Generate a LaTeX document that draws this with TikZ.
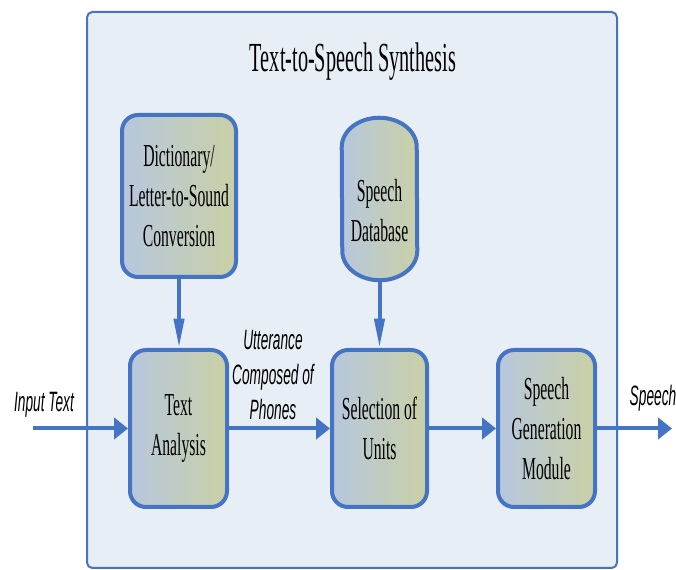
\documentclass[tikz,border=0pt]{standalone}
\usepackage{fontspec}
\usepackage{tikz}
\usetikzlibrary{arrows.meta}
\newfontfamily\boxfont[FakeStretch=0.49]{Liberation Serif}
\newfontfamily\labelfont[FakeStretch=0.49]{Liberation Sans}
\newlength\pxunit
\setlength\pxunit{0.75pt}
\definecolor{boxblue}{RGB}{70,116,196}
\definecolor{panelfill}{RGB}{232,238,246}
\definecolor{gradL}{RGB}{183,199,221}
\definecolor{gradR}{RGB}{201,208,166}
\tikzset{panel style/.style={draw=boxblue, line width=1.5pt, fill=panelfill, rounded corners=4pt}}
\tikzset{unit box/.style={draw=boxblue, line width=3pt, rounded corners=12pt, left color=gradL, right color=gradR, align=center, inner sep=0pt, font=\boxfont\fontsize{24pt}{30pt}\selectfont}}
\tikzset{db shape/.style={draw=boxblue, line width=3pt, left color=gradL, right color=gradR}}
\tikzset{flow label/.style={align=center, inner sep=0pt, font=\labelfont\itshape\fontsize{21pt}{26pt}\selectfont}}
\tikzset{h arrow/.style={draw=boxblue, line width=3pt, -{Triangle[length=10.5pt,width=16pt]}}}
\tikzset{v arrow/.style={draw=boxblue, line width=3pt, -{Triangle[length=22pt,width=7.5pt]}}}

\begin{document}
\begin{tikzpicture}[x=\pxunit, y=-\pxunit]
    \useasboundingbox (0,0) rectangle (676,570);
    \path[panel style] (87,12) rectangle (617,568);
    \node[font=\boxfont\fontsize{31pt}{36pt}\selectfont, inner sep=0pt] (title) at (353,62) {Text-to-Speech Synthesis};
    \node[unit box, minimum width=114\pxunit, minimum height=162\pxunit] (dict) at (179,196) {Dictionary/\\Letter-to-Sound\\Conversion};
    \node[minimum width=75\pxunit, minimum height=162\pxunit, inner sep=0pt] (db) at (379.5,199) {};
    \path[db shape] ([yshift=-22pt]db.north west)
        arc[start angle=180, end angle=0, x radius=28.125pt, y radius=22pt]
        -- ([yshift=22pt]db.south east)
        arc[start angle=0, end angle=-180, x radius=28.125pt, y radius=22pt] -- cycle;
    \node[align=center, inner sep=0pt, font=\boxfont\fontsize{24pt}{30pt}\selectfont] (dbtext) at ([yshift=-9pt]db.center) {Speech\\Database};
    \node[unit box, minimum width=97\pxunit, minimum height=157\pxunit] (ta) at (178.5,428.5) {Text\\Analysis};
    \node[unit box, minimum width=95\pxunit, minimum height=157\pxunit] (sel) at (379.5,428.5) {Selection of\\Units};
    \node[unit box, minimum width=97\pxunit, minimum height=157\pxunit] (gen) at (546.5,428.5) {Speech\\Generation\\Module};
    \coordinate (in) at (33,428.5);
    \coordinate (out) at (672,428.5);
    \draw[h arrow] (in) -- (ta);
    \draw[h arrow] (ta) -- (sel);
    \draw[h arrow] (sel) -- (gen);
    \draw[h arrow] (gen) -- (out);
    \draw[v arrow] (dict.south) -- (dict.south |- ta.north);
    \draw[v arrow] (db.south) -- (db.south |- sel.north);
    \node[flow label] (inlbl) at (44,405) {Input Text};
    \node[flow label] (uttlbl) at (273,375) {Utterance\\Composed of\\Phones};
    \node[flow label] (outlbl) at (653,398) {Speech};
\end{tikzpicture}
\end{document}
